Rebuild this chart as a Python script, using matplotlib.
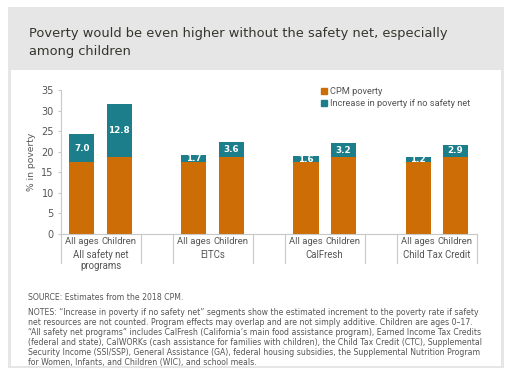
import matplotlib
matplotlib.use("Agg")
import matplotlib.pyplot as plt
from matplotlib.patches import Rectangle
from matplotlib.lines import Line2D
from matplotlib.transforms import blended_transform_factory

# ---- data ----
groups = ["All safety net\nprograms", "EITCs", "CalFresh", "Child Tax Credit"]
subcats = ["All ages", "Children"]
cpm_poverty = [17.4, 18.8, 17.4, 18.8, 17.4, 18.8, 17.4, 18.8]
increase = [7.0, 12.8, 1.7, 3.6, 1.6, 3.2, 1.2, 2.9]
yticks = [0, 5, 10, 15, 20, 25, 30, 35]
series_names = ["CPM poverty", "Increase in poverty if no safety net"]

title = "Poverty would be even higher without the safety net, especially\namong children"
source = "SOURCE: Estimates from the 2018 CPM."
notes = ("NOTES: \u201cIncrease in poverty if no safety net\u201d segments show the estimated increment to the poverty rate if safety\n"
         "net resources are not counted. Program effects may overlap and are not simply additive. Children are ages 0\u201317.\n"
         "\u201cAll safety net programs\u201d includes CalFresh (California\u2019s main food assistance program), Earned Income Tax Credits\n"
         "(federal and state), CalWORKs (cash assistance for families with children), the Child Tax Credit (CTC), Supplemental\n"
         "Security Income (SSI/SSP), General Assistance (GA), federal housing subsidies, the Supplemental Nutrition Program\n"
         "for Women, Infants, and Children (WIC), and school meals.")

ORANGE = "#CC6E05"
TEAL = "#1B7E8A"
TXT = "#555555"
GRID = "#C8C8C8"

W, H = 511, 381
fig = plt.figure(figsize=(W / 100, H / 100), dpi=100)
fig.patch.set_facecolor("white")

def px_rect(x0, y0, x1, y1, color, z):
    fig.patches.append(Rectangle((x0 / W, 1 - y1 / H), (x1 - x0) / W, (y1 - y0) / H,
                                 transform=fig.transFigure, facecolor=color,
                                 edgecolor="none", zorder=z))

px_rect(8, 7, 504, 368, "#E6E6E6", -2)
px_rect(11, 70, 501, 366, "white", -1)

fig.text(29 / W, 1 - 27 / H, title, ha="left", va="top", fontsize=9.4,
         color="#35352e", family="DejaVu Sans", linespacing=1.55, zorder=5)

ax_l, ax_r, ax_b, ax_t = 60.7, 477, 234, 90
ax = fig.add_axes([ax_l / W, 1 - ax_b / H, (ax_r - ax_l) / W, (ax_b - ax_t) / H])
ax.set_facecolor("none")
ax.set_zorder(5)

pos = []
for g in range(len(groups)):
    for i in range(len(subcats)):
        pos.append(3 * g + i)

bw = 0.67
ax.bar(pos, cpm_poverty, width=bw, color=ORANGE, zorder=2)
ax.bar(pos, increase, bottom=cpm_poverty, width=bw, color=TEAL, zorder=2)
for x, b, v in zip(pos, cpm_poverty, increase):
    ax.text(x, b + v / 2, f"{v:.1f}", ha="center", va="center", color="white",
            fontsize=6.3, fontweight="bold", family="DejaVu Sans", zorder=3)

ax.set_xlim(-0.57, 10.58)
ax.set_ylim(0, 35)
ax.set_yticks(yticks)
ax.tick_params(axis="y", length=2, color=GRID, pad=3, labelsize=7, labelcolor=TXT)
ax.set_xticks([])
for s in ["top", "right"]:
    ax.spines[s].set_visible(False)
for s in ["left", "bottom"]:
    ax.spines[s].set_color(GRID)
    ax.spines[s].set_linewidth(0.8)
ax.set_ylabel("% in poverty", fontsize=6.6, color=TXT, labelpad=4)

trans = blended_transform_factory(ax.transData, ax.transAxes)
depth = (263 - 234) / (ax_b - ax_t)
for g, name in enumerate(groups):
    left, right = 3 * g - 0.56, 3 * g + 1.58
    for xx in (left, right):
        ax.add_line(Line2D([xx, xx], [0, -depth], transform=trans, color=GRID,
                           lw=0.8, clip_on=False))
    for i, sc in enumerate(subcats):
        ax.text(3 * g + i, -(242 - 234) / (ax_b - ax_t), sc, transform=trans,
                ha="center", va="center", fontsize=6.8, color=TXT, family="Roboto")
    ax.text(3 * g + 0.5, -(249.5 - 234) / (ax_b - ax_t), name, transform=trans,
            ha="center", va="top", fontsize=6.9, color=TXT, family="Roboto",
            linespacing=1.1)

handles = [Rectangle((0, 0), 1, 1, color=ORANGE), Rectangle((0, 0), 1, 1, color=TEAL)]
leg = fig.legend(handles, series_names, loc="upper left", bbox_to_anchor=(321 / W, 1 - 87 / H),
                 frameon=False, handlelength=0.6, handleheight=0.6,
                 handletextpad=0.4, labelspacing=0.35, borderpad=0, borderaxespad=0,
                 labelcolor=TXT, prop={"family": "Roboto", "size": 6.7})
leg.set_zorder(6)

fig.text(28 / W, 1 - 297 / H, source, ha="left", va="center", fontsize=5.6,
         color=TXT, family="DejaVu Sans", zorder=5)
fig.text(28 / W, 1 - 308 / H, notes, ha="left", va="top", fontsize=5.6,
         color=TXT, family="DejaVu Sans", linespacing=1.14, zorder=5)

fig.savefig("out.png", dpi=100, facecolor="white")
